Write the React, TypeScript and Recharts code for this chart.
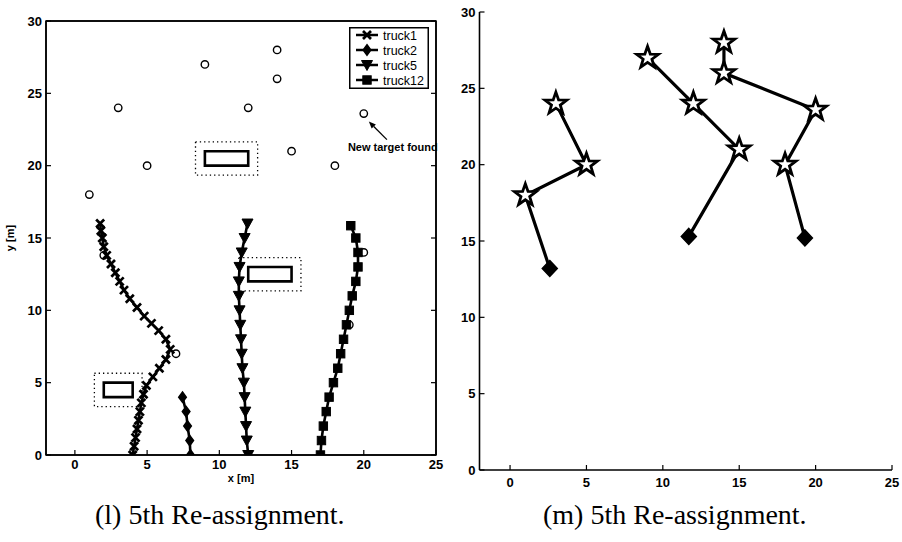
import React from 'react'
import {
  ScatterChart,
  Scatter,
  XAxis,
  YAxis,
  ReferenceArea,
  ReferenceLine,
  ReferenceDot,
  Legend,
} from 'recharts'

type Pt = { x: number; y: number }

const xTicks = [0, 5, 10, 15, 20, 25]
const yTicks = [0, 5, 10, 15, 20, 25, 30]

// targets (circles), left panel
const targets: Pt[] = [
  { x: 1, y: 18 }, { x: 3, y: 24 }, { x: 5, y: 20 }, { x: 9, y: 27 },
  { x: 12, y: 24 }, { x: 14, y: 28 }, { x: 14, y: 26 }, { x: 15, y: 21 },
  { x: 18, y: 20 }, { x: 20, y: 23.6 }, { x: 2, y: 13.8 }, { x: 7, y: 7 },
  { x: 19, y: 9 }, { x: 20, y: 14 },
]

const truck1: Pt[] = [
  { x: 4.0, y: 0 }, { x: 4.1, y: 0.6 }, { x: 4.2, y: 1.2 }, { x: 4.3, y: 1.8 },
  { x: 4.4, y: 2.4 }, { x: 4.5, y: 3.0 }, { x: 4.6, y: 3.6 }, { x: 4.75, y: 4.2 },
  { x: 4.95, y: 4.8 }, { x: 5.4, y: 5.4 }, { x: 5.85, y: 6.0 }, { x: 6.3, y: 6.6 },
  { x: 6.6, y: 7.3 }, { x: 6.3, y: 8.0 }, { x: 5.8, y: 8.6 }, { x: 5.3, y: 9.1 },
  { x: 4.8, y: 9.6 }, { x: 4.3, y: 10.2 }, { x: 3.8, y: 10.8 }, { x: 3.4, y: 11.4 },
  { x: 3.1, y: 12.0 }, { x: 2.8, y: 12.6 }, { x: 2.5, y: 13.2 }, { x: 2.2, y: 13.8 },
  { x: 2.0, y: 14.4 }, { x: 1.9, y: 15.0 }, { x: 1.8, y: 15.5 }, { x: 1.75, y: 16.0 },
]

const truck2: Pt[] = [
  { x: 8, y: 0 }, { x: 7.95, y: 1 }, { x: 7.8, y: 2 }, { x: 7.7, y: 3 }, { x: 7.45, y: 4 },
]

const truck5: Pt[] = [
  { x: 12.0, y: 0 }, { x: 11.9, y: 1 }, { x: 11.85, y: 2 }, { x: 11.8, y: 3 },
  { x: 11.75, y: 4 }, { x: 11.7, y: 5 }, { x: 11.6, y: 6 }, { x: 11.55, y: 7 },
  { x: 11.5, y: 8 }, { x: 11.45, y: 9 }, { x: 11.4, y: 10 }, { x: 11.35, y: 11 },
  { x: 11.35, y: 12 }, { x: 11.4, y: 13 }, { x: 11.55, y: 14 }, { x: 11.75, y: 15 },
  { x: 11.95, y: 16 },
]

const truck12: Pt[] = [
  { x: 17.0, y: 0 }, { x: 17.07, y: 1 }, { x: 17.2, y: 2 }, { x: 17.4, y: 3 },
  { x: 17.6, y: 4 }, { x: 17.9, y: 5 }, { x: 18.2, y: 6 }, { x: 18.4, y: 7 },
  { x: 18.6, y: 8 }, { x: 18.8, y: 9 }, { x: 19.0, y: 10 }, { x: 19.2, y: 11 },
  { x: 19.45, y: 12 }, { x: 19.6, y: 13 }, { x: 19.6, y: 14 }, { x: 19.45, y: 15 },
  { x: 19.1, y: 15.85 },
]

// obstacles and their safety margin
const obstacles = [
  { x1: 9, x2: 12, y1: 20, y2: 21 },
  { x1: 12, x2: 15, y1: 12, y2: 13 },
  { x1: 2, x2: 4, y1: 4, y2: 5 },
]
const margin = 0.65

// right panel routes: start (diamond) then targets (stars)
const routeA: Pt[] = [{ x: 2.6, y: 13.2 }, { x: 1, y: 18 }, { x: 5, y: 20 }, { x: 3, y: 24 }]
const routeB: Pt[] = [{ x: 11.7, y: 15.3 }, { x: 15, y: 21 }, { x: 12, y: 24 }, { x: 9, y: 27 }]
const routeC: Pt[] = [
  { x: 19.3, y: 15.2 }, { x: 18, y: 20 }, { x: 20, y: 23.6 }, { x: 14, y: 26 }, { x: 14, y: 28 },
]

const starts = [routeA[0], routeB[0], routeC[0]]
const stops = [...routeA.slice(1), ...routeB.slice(1), ...routeC.slice(1)]

const K = '#000'
const tickFont = { fontFamily: 'Liberation Sans, Arial, sans-serif', fontWeight: 700, fontSize: 13 }

function Cross({ cx, cy }: any) {
  const s = 4
  return (
    <path d={`M${cx - s},${cy - s}L${cx + s},${cy + s}M${cx - s},${cy + s}L${cx + s},${cy - s}`}
      stroke={K} strokeWidth={2.7} fill="none" />
  )
}
function Diamond({ cx, cy, w = 3.8, h = 5.2, hollow = false }: any) {
  return (
    <polygon points={`${cx},${cy - h} ${cx + w},${cy} ${cx},${cy + h} ${cx - w},${cy}`}
      fill={hollow ? '#fff' : K} stroke={K} strokeWidth={1.5} />
  )
}
function TriDown({ cx, cy }: any) {
  return <polygon points={`${cx - 5.5},${cy - 4.5} ${cx + 5.5},${cy - 4.5} ${cx},${cy + 5.5}`} fill={K} stroke={K} strokeWidth={1} />
}
function Square({ cx, cy }: any) {
  return <rect x={cx - 4.2} y={cy - 4.2} width={8.4} height={8.4} fill={K} stroke={K} strokeWidth={1} />
}
function Ring({ cx, cy }: any) {
  return <circle cx={cx} cy={cy} r={3.7} fill="none" stroke={K} strokeWidth={1.4} />
}
function Star({ cx, cy }: any) {
  const R = 11.5
  const r = 4.6
  const pts: string[] = []
  for (let i = 0; i < 10; i++) {
    const a = -Math.PI / 2 + (i * Math.PI) / 5
    const rad = i % 2 === 0 ? R : r
    pts.push(`${cx + rad * Math.cos(a)},${cy + rad * Math.sin(a)}`)
  }
  return <polygon points={pts.join(' ')} fill="#fff" stroke={K} strokeWidth={2.8} strokeLinejoin="miter" />
}
function BigDiamond({ cx, cy }: any) {
  return <Diamond cx={cx} cy={cy} w={7.5} h={8} />
}
const Nothing = () => <g />

// ticks pointing into the plot, MATLAB style
function BottomTick({ x, y, payload }: any) {
  return (
    <g>
      <line x1={x} x2={x} y1={y} y2={y - 5} stroke={K} strokeWidth={1.2} />
      <text x={x} y={y + 14} textAnchor="middle" {...tickFont}>{payload.value}</text>
    </g>
  )
}
function BottomTickR({ x, y, payload }: any) {
  return (
    <g>
      <line x1={x} x2={x} y1={y} y2={y - 5} stroke={K} strokeWidth={1.2} />
      <text x={x} y={y + 17} textAnchor="middle" {...tickFont}>{payload.value}</text>
    </g>
  )
}
function TopTick({ x, y }: any) {
  return <line x1={x} x2={x} y1={y} y2={y + 5} stroke={K} strokeWidth={1.2} />
}
function LeftTick({ x, y, payload }: any) {
  return (
    <g>
      <line x1={x} x2={x + 5} y1={y} y2={y} stroke={K} strokeWidth={1.2} />
      <text x={x - 4} y={y + 4.5} textAnchor="end" {...tickFont}>{payload.value}</text>
    </g>
  )
}
function RightTick({ x, y }: any) {
  return <line x1={x} x2={x - 5} y1={y} y2={y} stroke={K} strokeWidth={1.2} />
}

const legendItems = [
  { name: 'truck1', Mark: Cross },
  { name: 'truck2', Mark: Diamond },
  { name: 'truck5', Mark: TriDown },
  { name: 'truck12', Mark: Square },
]

function TruckLegend() {
  return (
    <svg width={80} height={62} style={{ display: 'block' }}>
      <rect x={0.75} y={0.75} width={78.5} height={60.5} fill="#fff" stroke={K} strokeWidth={1.5} />
      {legendItems.map(({ name, Mark }, i) => {
        const cy = 8 + i * 15
        return (
          <g key={name}>
            <line x1={7} x2={29} y1={cy} y2={cy} stroke={K} strokeWidth={2.5} />
            <Mark cx={18} cy={cy} />
            <text x={34} y={cy + 4.5} fontFamily="Liberation Sans, Arial, sans-serif" fontSize={12.5}>{name}</text>
          </g>
        )
      })}
    </svg>
  )
}

function Arrow(p: any) {
  const { x1, y1, x2, y2 } = p
  const a = Math.atan2(y2 - y1, x2 - x1)
  const L = 7
  const w = 3
  const bx = x2 - L * Math.cos(a)
  const by = y2 - L * Math.sin(a)
  const nx = -Math.sin(a) * w
  const ny = Math.cos(a) * w
  return (
    <g>
      <line x1={x1} y1={y1} x2={bx} y2={by} stroke={K} strokeWidth={1.3} />
      <polygon points={`${x2},${y2} ${bx + nx},${by + ny} ${bx - nx},${by - ny}`} fill={K} />
    </g>
  )
}

function NoteText({ cx, cy }: any) {
  return (
    <text x={cx} y={cy + 4} fontFamily="Liberation Sans, Arial, sans-serif" fontWeight={700} fontSize={11}>
      New target found
    </text>
  )
}

function LeftPanel() {
  const lineStyle = { stroke: K, strokeWidth: 2.6 }
  return (
    <ScatterChart width={450} height={490} margin={{ top: 20, right: 13, bottom: 5, left: 0 }}>
      <XAxis dataKey="x" type="number" domain={[-2, 25]} ticks={xTicks} allowDataOverflow
        height={30} tickSize={0} tickMargin={0} tickLine={false}
        axisLine={{ stroke: K, strokeWidth: 1.5 }} tick={<BottomTick />}
        label={{
          content: ({ viewBox }: any) => (
            <text x={viewBox.x + viewBox.width / 2} y={viewBox.y + 27} textAnchor="middle"
              fontFamily="Liberation Sans, Arial, sans-serif" fontWeight={700} fontSize={11}>x [m]</text>
          ),
        }} />
      <XAxis xAxisId="top" orientation="top" type="number" domain={[-2, 25]} ticks={xTicks} allowDataOverflow
        height={1} tickSize={0} tickMargin={0} tickLine={false}
        axisLine={{ stroke: K, strokeWidth: 1.5 }} tick={<TopTick />} />
      <YAxis dataKey="y" type="number" domain={[0, 30]} ticks={yTicks} allowDataOverflow
        width={46} tickSize={0} tickMargin={0} tickLine={false}
        axisLine={{ stroke: K, strokeWidth: 1.5 }} tick={<LeftTick />}
        label={{
          content: ({ viewBox }: any) => {
            const lx = viewBox.x + 14
            const ly = viewBox.y + viewBox.height / 2
            return (
              <text x={lx} y={ly} transform={`rotate(-90 ${lx} ${ly})`} textAnchor="middle"
                fontFamily="Liberation Sans, Arial, sans-serif" fontWeight={700} fontSize={11}>y [m]</text>
            )
          },
        }} />
      <YAxis yAxisId="right" orientation="right" type="number" domain={[0, 30]} ticks={yTicks} allowDataOverflow
        width={1} tickSize={0} tickMargin={0} tickLine={false}
        axisLine={{ stroke: K, strokeWidth: 1.5 }} tick={<RightTick />} />

      {/* plot frame */}
      <ReferenceArea x1={-2} x2={25} y1={0} y2={30} fill="none" fillOpacity={0} stroke={K} strokeWidth={1.5} ifOverflow="visible" />

      {obstacles.map((o, i) => (
        <ReferenceArea key={`m${i}`} x1={o.x1 - margin} x2={o.x2 + margin} y1={o.y1 - margin} y2={o.y2 + margin}
          fill="none" fillOpacity={0} stroke={K} strokeWidth={1.3} strokeDasharray="1.3 3" ifOverflow="visible" />
      ))}
      {obstacles.map((o, i) => (
        <ReferenceArea key={`o${i}`} x1={o.x1} x2={o.x2} y1={o.y1} y2={o.y2}
          fill="none" fillOpacity={0} stroke={K} strokeWidth={2.6} ifOverflow="visible" />
      ))}

      <Scatter name="targets" data={targets} shape={<Ring />} legendType="none" isAnimationActive={false} />
      <Scatter name="truck1" data={truck1} line={lineStyle} lineJointType="linear" shape={<Cross />} isAnimationActive={false} />
      <Scatter name="truck2" data={truck2} line={lineStyle} lineJointType="linear" shape={<Diamond />} isAnimationActive={false} />
      <Scatter name="truck5" data={truck5} line={lineStyle} lineJointType="linear" shape={<TriDown />} isAnimationActive={false} />
      <Scatter name="truck12" data={truck12} line={lineStyle} lineJointType="linear" shape={<Square />} isAnimationActive={false} />

      <ReferenceLine segment={[{ x: 21.6, y: 21.8 }, { x: 20.35, y: 23.05 }]} shape={<Arrow />} ifOverflow="visible" />
      <ReferenceDot x={18.9} y={21.3} shape={<NoteText />} ifOverflow="visible" />

      <Legend layout="vertical" align="center" verticalAlign="middle" content={<TruckLegend />}
        wrapperStyle={{ position: 'absolute', left: 349, top: 27, width: 80, height: 62, margin: 0 }} />
    </ScatterChart>
  )
}

function RightPanel() {
  const lineStyle = { stroke: K, strokeWidth: 3.2 }
  return (
    <ScatterChart width={452} height={490} margin={{ top: 12, right: 10, bottom: 5, left: 0.5 }}>
      <XAxis dataKey="x" type="number" domain={[-2, 25]} ticks={xTicks} allowDataOverflow
        height={15} tickSize={0} tickMargin={0} tickLine={false}
        axisLine={{ stroke: K, strokeWidth: 1.6 }} tick={<BottomTickR />} />
      <YAxis dataKey="y" type="number" domain={[0, 30]} ticks={yTicks} allowDataOverflow
        width={29} tickSize={0} tickMargin={0} tickLine={false}
        axisLine={{ stroke: K, strokeWidth: 1.6 }} tick={<LeftTick />} />
      <Scatter data={routeA} line={lineStyle} lineJointType="linear" shape={<Nothing />} isAnimationActive={false} />
      <Scatter data={routeB} line={lineStyle} lineJointType="linear" shape={<Nothing />} isAnimationActive={false} />
      <Scatter data={routeC} line={lineStyle} lineJointType="linear" shape={<Nothing />} isAnimationActive={false} />
      <Scatter data={starts} shape={<BigDiamond />} isAnimationActive={false} />
      <Scatter data={stops} shape={<Star />} isAnimationActive={false} />
    </ScatterChart>
  )
}

const captionStyle: React.CSSProperties = {
  position: 'absolute',
  top: 499,
  fontFamily: '"Liberation Serif", "DejaVu Serif", serif',
  fontSize: 28,
  color: '#000',
  whiteSpace: 'nowrap',
}

export default function App() {
  return (
    <div style={{ position: 'absolute', left: 0, top: 0, width: 902, height: 542, background: '#fff', overflow: 'hidden' }}>
      <div style={{ position: 'absolute', left: 0, top: 0 }}>
        <LeftPanel />
      </div>
      <div style={{ position: 'absolute', left: 450, top: 0 }}>
        <RightPanel />
      </div>
      <div style={{ ...captionStyle, left: 95 }}>(l) 5th Re-assignment.</div>
      <div style={{ ...captionStyle, left: 543 }}>(m) 5th Re-assignment.</div>
    </div>
  )
}
